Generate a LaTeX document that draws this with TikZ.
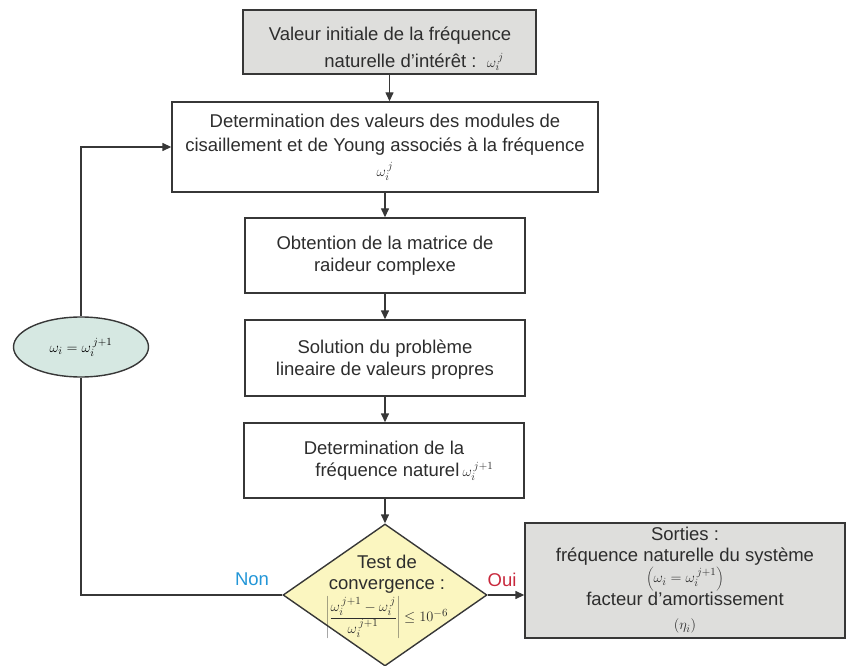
\documentclass[tikz,border=0pt]{standalone}
\usepackage{fontspec}
\setmainfont{Liberation Sans}
\usetikzlibrary{shapes.geometric,arrows.meta}
\definecolor{linec}{RGB}{55,55,55}
\definecolor{textc}{RGB}{45,45,45}
\definecolor{grayfill}{RGB}{222,222,220}
\definecolor{ellfill}{RGB}{214,232,226}
\definecolor{diafill}{RGB}{251,246,192}
\definecolor{nonc}{RGB}{35,150,215}
\definecolor{ouic}{RGB}{200,40,60}
\newcommand{\mainf}{\fontsize{18.5}{24.5}\selectfont}
\newcommand{\mathf}{\fontsize{15}{18}\selectfont}
\newcommand{\om}{\omega}
\begin{document}
\begin{tikzpicture}[x=1pt,y=-1pt,
  boxs/.style={draw=linec, line width=1.4pt, rectangle, font=\mainf, text=textc, align=center, inner sep=0pt},
  grayb/.style={boxs, fill=grayfill},
  txt/.style={font=\mainf, text=textc, align=center, inner sep=0pt},
  arr/.style={draw=linec, line width=1.4pt, -{Triangle[length=9pt,width=8pt]}},
  ln/.style={draw=linec, line width=1.4pt}]
\useasboundingbox (0,0) rectangle (847,666);

\node[grayb, minimum width=293pt, minimum height=64pt] (b1) at (389.5,42) {};
\node[txt] (b1t) at (390,49)
  {Valeur initiale de la fréquence\\[2pt] \hspace*{2.6em}naturelle d'intérêt :\ \ {\mathf$\om_i^{\,j}$}};
\node[boxs, minimum width=426pt, minimum height=90pt] (b2) at (385,147)
  {Determination des valeurs des modules de\\ cisaillement et de Young associés à la fréquence\\ {\mathf$\om_i^{\,j}$}};
\node[boxs, minimum width=280pt, minimum height=75pt] (b3) at (385,255.5)
  {Obtention de la matrice de\\[-2pt] raideur complexe};
\node[boxs, minimum width=280pt, minimum height=76pt] (b4) at (385,358)
  {\rule{0pt}{17pt}Solution du problème\\[-2pt] lineaire de valeurs propres};
\node[boxs, minimum width=280pt, minimum height=75pt] (b5) at (384,460.5)
  {Determination de la\\[-2pt] \hspace*{2.2em}fréquence naturel\,{\mathf$\om_i^{\,j+1}$}};
\node[draw=linec, line width=1.4pt, fill=diafill, diamond, minimum width=204pt, minimum height=142pt, inner sep=0pt] (d) at (385,595) {};
\node[txt] (dt) at (387,597)
  {Test de\\[-4pt] convergence :\\[3pt] {\mathf$\left|\displaystyle\frac{\om_i^{\,j+1}-\om_i^{\,j}}{\om_i^{\,j+1}}\right|\le 10^{-6}$}};
\node[grayb, minimum width=320pt, minimum height=115pt] (out) at (685,580.5)
  {Sorties :\\[-4pt] fréquence naturelle du système\\[-3pt] {\mathf$\left(\om_i=\om_i^{\,j+1}\right)$}\\[-2pt] facteur d'amortissement\\[0pt] {\mathf$\left(\eta_i\right)$}};
\node[draw=linec, line width=1.4pt, fill=ellfill, ellipse, minimum width=135pt, minimum height=60pt, inner sep=0pt, font=\mathf] (e) at (81,347)
  {$\om_i=\om_i^{\,j+1}$};

\draw[arr] (b1.south) -- (b1.south |- b2.north);
\draw[arr] (b3.north |- b2.south) -- (b3.north);
\draw[arr] (b3.south) -- (b4.north);
\draw[arr] (b4.south) -- (b4.south |- b5.north);
\draw[arr] (d.north |- b5.south) -- (d.north);
\draw[arr] (d.east) -- (d.east -| out.west);
\draw[ln] (d.west) -| (e.south);
\draw[arr] (e.north) |- (b2.west);

\node[font=\mainf, text=nonc, anchor=base] (non) at (252,585) {Non};
\node[font=\mainf, text=ouic, anchor=base] (oui) at (502,586) {Oui};
\end{tikzpicture}
\end{document}
